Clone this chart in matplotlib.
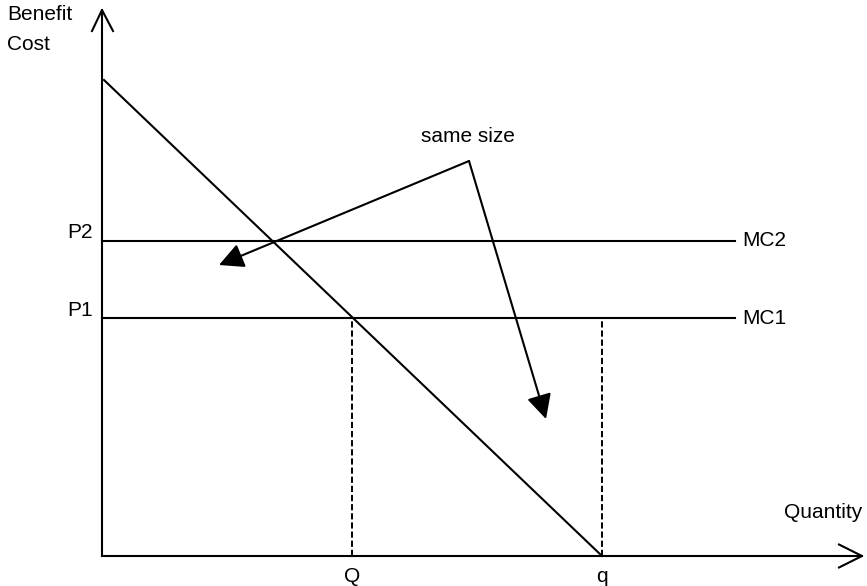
import matplotlib
matplotlib.use("Agg")
import matplotlib.pyplot as plt

plt.rcParams['font.family'] = ['Liberation Sans', 'DejaVu Sans']

# ---- data (arbitrary economic units) ----
demand_q = [0.4, 100]
demand_p = [95.2, 0]
P1 = 47.6
P2 = 63.0
Q = 50.0
q = 100.0
mc_end = 126.6
mc_labels = ["MC1", "MC2"]
price_labels = ["P1", "P2"]
qty_labels = ["Q", "q"]
arrow_apex = (73.4, 79.0)
arrow_tips = [(23.4, 58.2), (88.8, 27.4)]
note = "same size"

W, H = 867, 586
fig = plt.figure(figsize=(W / 100, H / 100), dpi=100)
ax = fig.add_axes([0, 0, 1, 1])
# 5 px per unit, origin at pixel (102, 556)
ox, oy, s = 102, 556, 5.0
ax.set_xlim(-ox / s, (W - ox) / s)
ax.set_ylim(-(H - oy) / s, oy / s)
ax.axis('off')

lw = 1.5
k = 'black'
fs = 15
# axes
ax.plot([0, 0], [0, 109.2], color=k, lw=lw)
ax.plot([-2.0, 0, 2.2], [105.0, 109.2, 105.0], color=k, lw=lw)
ax.plot([0, 152], [0, 0], color=k, lw=lw)
ax.plot([147.4, 152, 147.4], [2.3, 0, -2.3], color=k, lw=lw)

# demand
ax.plot(demand_q, demand_p, color=k, lw=lw)
# MC lines
for p, lab, plab in zip([P1, P2], mc_labels, price_labels):
    ax.plot([0, mc_end], [p, p], color=k, lw=lw)
    ax.text(mc_end + 1.4, p, lab, fontsize=fs, ha='left', va='center')
    ax.text(-1.8, p + 1.6, plab, fontsize=fs, ha='right', va='center')

# dashed verticals
for xq, lab in zip([Q, q], qty_labels):
    ax.plot([xq, xq], [0, P1], color=k, lw=1.4, ls=(0, (3.2, 1.5)))
    ax.text(xq, -2.2, lab, fontsize=fs, ha='center', va='top')

# same size arrows
for tip in arrow_tips:
    ax.annotate('', xy=tip, xytext=arrow_apex,
                arrowprops=dict(arrowstyle='-|>,head_length=0.75,head_width=0.38',
                                mutation_scale=20, color=k, lw=lw,
                                shrinkA=0, shrinkB=0))
ax.text(arrow_apex[0] - 0.3, arrow_apex[1] + 4.8, note, fontsize=fs,
        ha='center', va='center')

# axis labels
ax.text(-19.0, 108.2, "Benefit", fontsize=fs, ha='left', va='center')
ax.text(-19.0, 102.2, "Cost", fontsize=fs, ha='left', va='center')
ax.text(144.2, 8.6, "Quantity", fontsize=fs, ha='center', va='center')

fig.savefig("out.png", dpi=100)
